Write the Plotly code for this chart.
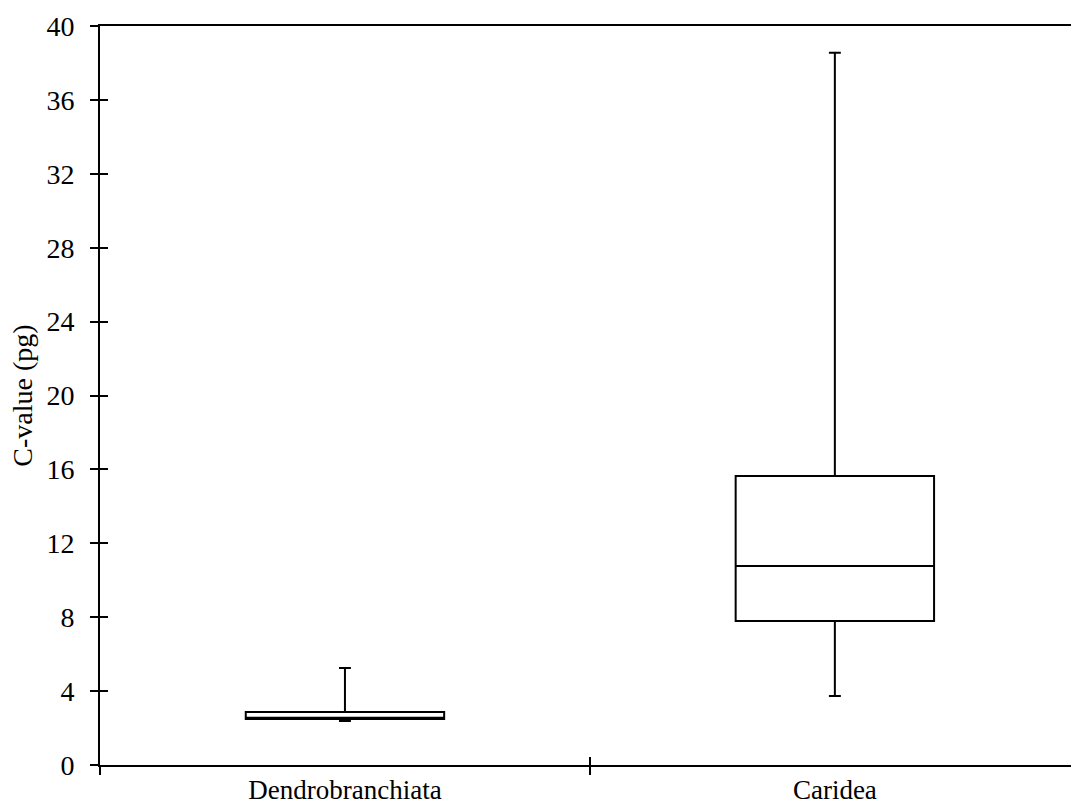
import plotly.graph_objects as go

categories = ["Dendrobranchiata", "Caridea"]
q1 = [2.49, 7.79]
median = [2.56, 10.77]
q3 = [2.87, 15.64]
lower = [2.38, 3.73]
upper = [5.25, 38.55]

y_ticks = list(range(0, 41, 4))
x_range = [-0.5, 1.482]

fig = go.Figure()
for i, c in enumerate(categories):
    fig.add_trace(go.Box(
        x=[c], q1=[q1[i]], median=[median[i]], q3=[q3[i]],
        lowerfence=[lower[i]], upperfence=[upper[i]],
        width=0.405, whiskerwidth=0.06,
        fillcolor="white", line=dict(color="black", width=2),
        boxpoints=False, showlegend=False, hoverinfo="skip",
    ))

font = dict(family="Liberation Serif, Times New Roman, serif", size=28, color="black")
xfont = dict(family="Liberation Serif, Times New Roman, serif", size=27, color="black")

fig.update_layout(
    template="none",
    width=1072, height=809,
    margin=dict(l=100, r=1, t=26, b=44, autoexpand=False),
    paper_bgcolor="white", plot_bgcolor="white",
    font=font,
    xaxis=dict(
        type="category", categoryarray=categories, categoryorder="array",
        range=x_range, showgrid=False, zeroline=False, automargin=False,
        showline=True, linecolor="black", linewidth=2, mirror=True,
        ticks="outside", ticklen=8, tickwidth=2, tickcolor="black",
        tickson="boundaries", ticklabelstandoff=0,
        tickfont=xfont,
    ),
    xaxis2=dict(
        overlaying="x", range=x_range, tickvals=[-0.5, 0.5],
        ticks="inside", ticklen=8, tickwidth=2, tickcolor="black",
        showticklabels=False, showgrid=False, zeroline=False, showline=False,
    ),
    yaxis=dict(
        range=[0, 40], tickvals=y_ticks, showgrid=False, zeroline=False,
        automargin=False,
        showline=True, linecolor="black", linewidth=2,
        ticks="outside", ticklen=8, tickwidth=2, tickcolor="black",
        ticklabelstandoff=10, tickfont=font,
        title=dict(text="C-value (pg)", font=font, standoff=6),
    ),
    yaxis2=dict(
        overlaying="y", range=[0, 40], tickvals=y_ticks,
        ticks="inside", ticklen=8, tickwidth=2, tickcolor="black",
        showticklabels=False, showgrid=False, zeroline=False, showline=False,
    ),
)
fig.add_trace(go.Scatter(x=[None], y=[None], xaxis="x2", yaxis="y2",
                         showlegend=False, hoverinfo="skip"))

fig.write_html("out.html")
